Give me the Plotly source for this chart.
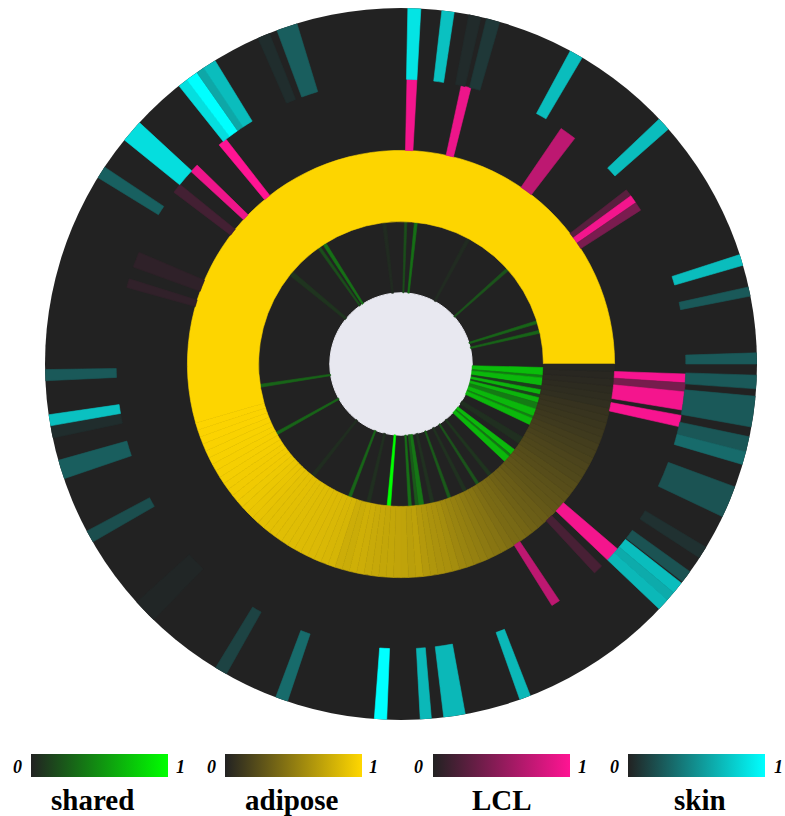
import plotly.graph_objects as go

DARK = "#222222"
HOLE = "#e8e8f0"

# ---------------- data (angles in degrees, values 0..1) ----------------
shared_from = [355.5, 354.4, 351.2, 349.6, 347.6, 346.3, 344.2, 341.5, 338.5, 337.5, 334.8,
               326.0, 320.5, 319.5, 316.8, 308.0, 302.0, 296.0, 289.3, 282.0, 277.0, 275.8,
               273.0, 264.4, 256.0, 248.3, 231.0, 208.6, 188.2, 139.5, 124.5, 121.8, 96.0,
               87.6, 83.4, 61.0, 41.0, 16.5, 12.5]
shared_to = [358.6, 355.5, 354.4, 351.2, 349.6, 347.6, 346.3, 344.2, 341.5, 338.5, 337.5,
             329.0, 323.0, 320.5, 319.5, 309.5, 303.2, 297.5, 290.5, 283.5, 279.2, 277.0,
             274.2, 265.8, 257.5, 249.5, 232.5, 209.8, 189.4, 141.5, 125.7, 123.2, 97.5,
             88.6, 84.6, 62.5, 42.2, 17.7, 13.7]
shared_val = [0.70, 0.40, 0.68, 0.12, 0.66, 0.15, 0.66, 0.40, 0.68, 0.42, 0.68,
              0.06, 0.68, 0.38, 0.68, 0.08, 0.22, 0.07, 0.25, 0.07, 0.38, 0.25,
              0.35, 1.00, 0.06, 0.30, 0.05, 0.30, 0.30, 0.08, 0.20, 0.35, 0.04,
              0.20, 0.35, 0.04, 0.22, 0.30, 0.30]

adipose_edges = [0, 196, 198, 200, 202, 204, 206, 208, 210, 212, 214, 216, 218,
                 220, 222, 224, 226, 228, 230, 232, 234, 236, 238, 240, 242, 244, 246, 248,
                 250, 252, 254, 256, 258, 260, 262, 264, 266, 268, 270, 272, 274, 276, 278,
                 280, 282, 284, 286, 288, 290, 292, 294, 296, 298, 300, 302, 304, 306, 308,
                 310, 312, 314, 316, 318, 320, 322, 324, 326, 328, 330, 332, 334, 336, 338,
                 340, 342, 344, 346, 348, 350, 352, 354, 356, 358, 360]
adipose_val = [0.99, 0.985, 0.98, 0.98, 0.975, 0.97, 0.965, 0.96, 0.955, 0.95,
               0.94, 0.935, 0.93, 0.92, 0.91, 0.90, 0.89, 0.88, 0.875, 0.87, 0.86, 0.855, 0.85,
               0.845, 0.84, 0.835, 0.83, 0.82, 0.81, 0.77, 0.76, 0.78, 0.77, 0.75, 0.74, 0.73,
               0.73, 0.72, 0.71, 0.69, 0.70, 0.66, 0.64, 0.62, 0.61, 0.59, 0.56, 0.54, 0.52,
               0.50, 0.48, 0.46, 0.45, 0.42, 0.40, 0.39, 0.37, 0.35, 0.33, 0.32, 0.30, 0.28,
               0.27, 0.26, 0.24, 0.23, 0.21, 0.20, 0.19, 0.17, 0.16, 0.15, 0.13, 0.12, 0.11,
               0.10, 0.09, 0.07, 0.06, 0.05, 0.04, 0.03, 0.02]

lcl_from = [86.8, 75.8, 52.4, 36.2, 34.5, 32.7, 356.2, 354.4, 350.7, 347.3, 316.5, 312.8,
            302.0, 127.9, 135.7, 140.9, 156.9, 162.6]
lcl_to = [88.8, 77.8, 55.8, 37.7, 36.2, 34.5, 358.0, 356.2, 354.4, 349.6, 319.5, 314.8,
          303.8, 129.7, 137.5, 142.9, 160.1, 164.4]
lcl_val = [0.95, 0.92, 0.70, 0.25, 0.95, 0.40, 0.97, 0.38, 0.95, 0.97, 0.95, 0.17,
           0.70, 1.00, 0.92, 0.15, 0.06, 0.07]

skin_from = [0.0, 356.0, 349.8, 345.7, 343.6, 334.6, 327.0, 322.3, 320.0, 318.5, 316.5,
             289.5, 276.9, 273.1, 265.7, 249.4, 238.6, 222.0, 208.0, 195.7, 190.0, 188.2,
             180.9, 146.4, 137.3, 127.0, 125.0, 123.7, 121.5, 111.7, 107.0, 86.8, 81.4,
             77.0, 73.9, 59.4, 41.3, 16.1, 11.0]
skin_to = [1.8, 358.2, 354.8, 348.2, 345.7, 339.8, 329.0, 324.3, 322.0, 320.0, 318.5,
           291.3, 280.4, 274.9, 267.7, 251.4, 240.6, 226.0, 210.0, 198.8, 192.0, 190.0,
           182.7, 148.4, 141.0, 128.6, 127.0, 125.0, 123.7, 113.7, 110.4, 88.9, 83.4,
           79.0, 76.1, 61.6, 43.5, 17.9, 12.5]
skin_val = [0.25, 0.25, 0.25, 0.24, 0.33, 0.22, 0.07, 0.22, 0.70, 0.62, 0.68,
            0.68, 0.68, 0.68, 1.00, 0.33, 0.15, 0.02, 0.20, 0.27, 0.05, 0.72,
            0.25, 0.28, 0.85, 0.85, 1.00, 0.60, 0.70, 0.05, 0.27, 0.88, 0.72,
            0.04, 0.10, 0.70, 0.70, 0.70, 0.25]

tissues = ["shared", "adipose", "LCL", "skin"]
end_colors = ["#00ff00", "#ffd700", "#ff1493", "#00ffff"]

# ---------------- layout helpers (page pixels; body margin removed) ----------------
L, R, T, B = 45, 28, 8, 96
W, H = 785, 816
PW, PH = W - L - R, H - T - B


def px_x(px):
    return (px - L) / PW


def px_y(py):
    return (H - B - py) / PH


bar_left = [31, 225, 433, 628]
bar_w = 137
bar_top = 754
bar_th = 23
zero_x = [17, 211, 418, 614]
one_x = [180, 373, 582, 778]
title_x = [92, 292, 502, 700]


def ring(name, frm, to, val, base, cend, k):
    theta = [(a + b) / 2 for a, b in zip(frm, to)]
    width = [b - a for a, b in zip(frm, to)]
    cs = [[0, DARK], [1, cend]]
    return go.Barpolar(
        name=name,
        theta=theta,
        width=width,
        r=[1] * len(val),
        base=[base] * len(val),
        marker=dict(
            color=val, colorscale=cs, cmin=0, cmax=1,
            line=dict(color=val, colorscale=cs, cmin=0, cmax=1, width=0.6),
            showscale=True,
            colorbar=dict(
                orientation="h", x=px_x(bar_left[k] + bar_w / 2), xanchor="center",
                y=px_y(bar_top), yanchor="top", len=bar_w, lenmode="pixels",
                thickness=bar_th, thicknessmode="pixels", outlinewidth=0,
                showticklabels=False, ticks="", xpad=0, ypad=0,
            ),
        ),
        hoverinfo="skip",
        showlegend=False,
    )


fig = go.Figure()

# inner hole
fig.add_trace(go.Barpolar(theta=[45, 135, 225, 315], width=[90] * 4, r=[1] * 4, base=[0] * 4,
                          marker=dict(color=HOLE, line=dict(color=HOLE, width=1)),
                          hoverinfo="skip", showlegend=False))

fig.add_trace(ring("shared", shared_from, shared_to, shared_val, 1, end_colors[0], 0))
fig.add_trace(ring("adipose", adipose_edges[:-1], adipose_edges[1:], adipose_val, 2, end_colors[1], 1))
fig.add_trace(ring("LCL", lcl_from, lcl_to, lcl_val, 3, end_colors[2], 2))
fig.add_trace(ring("skin", skin_from, skin_to, skin_val, 4, end_colors[3], 3))

ann = []
for k, name in enumerate(tissues):
    cy = bar_top + bar_th / 2 + 1
    ann.append(dict(x=px_x(zero_x[k]), y=px_y(cy), text="<b><i>0</i></b>", showarrow=False,
                    xref="paper", yref="paper", xanchor="center", yanchor="middle",
                    font=dict(family="Liberation Serif", size=18, color="#000")))
    ann.append(dict(x=px_x(one_x[k]), y=px_y(cy), text="<b><i>1</i></b>", showarrow=False,
                    xref="paper", yref="paper", xanchor="center", yanchor="middle",
                    font=dict(family="Liberation Serif", size=18, color="#000")))
    ann.append(dict(x=px_x(title_x[k]), y=px_y(800), text="<b>%s</b>" % name,
                    showarrow=False, xref="paper", yref="paper", xanchor="center",
                    yanchor="middle",
                    font=dict(family="Liberation Serif", size=29, color="#000")))

fig.update_layout(
    template="none",
    width=W, height=H,
    margin=dict(l=L, r=R, t=T, b=B, pad=0),
    paper_bgcolor="white",
    plot_bgcolor="white",
    showlegend=False,
    hovermode=False,
    annotations=ann,
    polar=dict(
        bgcolor=DARK,
        bargap=0,
        domain=dict(x=[0, 1], y=[0, 1]),
        radialaxis=dict(range=[0, 5], visible=False, showgrid=False, showline=False,
                        showticklabels=False, ticks=""),
        angularaxis=dict(rotation=0, direction="counterclockwise", visible=False,
                         showgrid=False, showline=False, showticklabels=False, ticks=""),
    ),
)

fig.write_html(
    "out.html",
    config={"displayModeBar": False},
    post_script="document.body.style.margin='0';document.body.style.overflow='hidden';",
)
